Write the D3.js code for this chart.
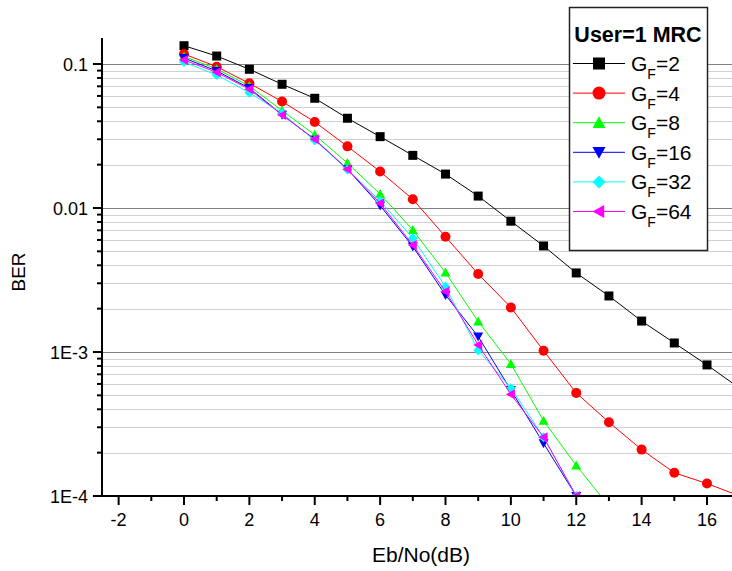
<!DOCTYPE html>
<html>
<head>
<meta charset="utf-8">
<script src="https://cdn.jsdelivr.net/npm/d3@7"></script>
<style>
    body { margin: 0; background: #fff; }
    text { font-family: "Liberation Sans", Arial, sans-serif; }
</style>
</head>
<body>
<div id="chart-view"></div>
<script>
// Eb/No values (dB)
var ebno = [0, 1, 2, 3, 4, 5, 6, 7, 8, 9, 10, 11, 12, 13, 14, 15, 16, 17];

// BER for each spreading factor G_F
var berGF2 = [0.134, 0.1136, 0.0919, 0.0723, 0.0578, 0.042, 0.0313, 0.0232, 0.0172, 0.0121,
    0.0081, 0.00545, 0.00354, 0.00245, 0.00164, 0.001155, 0.000813, 0.00056];
var berGF4 = [0.1173, 0.0958, 0.0734, 0.0549, 0.0396, 0.0268, 0.0179, 0.0115, 0.00632, 0.00348,
    0.00204, 0.00102, 0.00052, 0.000325, 0.00021, 0.000145, 0.000122, 0.0001];
var berGF8 = [0.1127, 0.0925, 0.0703, 0.0475, 0.0322, 0.0205, 0.0125, 0.00703, 0.00356, 0.00163,
    0.000826, 0.000333, 0.000163, 0.000085];
var berGF16 = [0.110, 0.0895, 0.068, 0.0445, 0.0298, 0.0186, 0.0104, 0.0054, 0.00249, 0.00128,
    0.000544, 0.000232, 0.0001];
var berGF32 = [0.1032, 0.0839, 0.0632, 0.0455, 0.0295, 0.0185, 0.0112, 0.00616, 0.00284, 0.00103,
    0.00056, 0.000256, 0.0001];
var berGF64 = [0.1066, 0.0875, 0.0667, 0.0443, 0.030, 0.0186, 0.0108, 0.00553, 0.00263, 0.00112,
    0.000508, 0.000256, 0.0001];

var seriesNames = ["2", "4", "8", "16", "32", "64"];
var legendTitle = "User=1 MRC";
var xTickValues = [-2, 0, 2, 4, 6, 8, 10, 12, 14, 16];
var yTickValues = [1e-4, 1e-3, 1e-2, 1e-1];
var yTickLabels = ["1E-4", "1E-3", "0.01", "0.1"];

/** Class implementing the BER chart. */
class BerChart {
    constructor() {
        this.width = 732;
        this.height = 571;

        // plot area edges
        this.left = 102;
        this.right = 732;
        this.top = 38;
        this.bottom = 496;

        this.svg = d3.select("#chart-view")
            .append("svg")
            .attr("width", this.width)
            .attr("height", this.height);

        this.x = d3.scaleLinear().domain([0, 16]).range([184, 707]);
        this.y = d3.scaleLog().domain([1e-4, 1e-1]).range([this.bottom, 64]);

        this.series = [
            {name: seriesNames[0], values: berGF2, color: "#000000", shape: "square"},
            {name: seriesNames[1], values: berGF4, color: "#ff0000", shape: "circle"},
            {name: seriesNames[2], values: berGF8, color: "#00ff00", shape: "up"},
            {name: seriesNames[3], values: berGF16, color: "#0000ff", shape: "down"},
            {name: seriesNames[4], values: berGF32, color: "#00ffff", shape: "diamond"},
            {name: seriesNames[5], values: berGF64, color: "#ff00ff", shape: "left"}
        ];
    }

    // path for a marker centred on 0,0 with half size s
    markerPath(shape, s) {
        if (shape == "square") {
            return "M" + (-s) + "," + (-s) + "h" + (2 * s) + "v" + (2 * s) + "h" + (-2 * s) + "Z";
        }
        if (shape == "circle") {
            return "M" + (-s) + ",0a" + s + "," + s + " 0 1,0 " + (2 * s) + ",0a" + s + "," + s + " 0 1,0 " + (-2 * s) + ",0Z";
        }
        if (shape == "up") {
            return "M0," + (-s) + "L" + s + "," + (s * 0.8) + "L" + (-s) + "," + (s * 0.8) + "Z";
        }
        if (shape == "down") {
            return "M0," + s + "L" + s + "," + (-s * 0.8) + "L" + (-s) + "," + (-s * 0.8) + "Z";
        }
        if (shape == "diamond") {
            return "M0," + (-s) + "L" + s + ",0L0," + s + "L" + (-s) + ",0Z";
        }
        if (shape == "left") {
            return "M" + (-s) + ",0L" + (s * 0.8) + "," + (-s) + "L" + (s * 0.8) + "," + s + "Z";
        }
    }

    drawGrid() {
        var self = this;
        var minor = [];
        var major = [];
        for (var e = -4; e <= -1; e++) {
            for (var m = 1; m <= 9; m++) {
                var v = m * Math.pow(10, e);
                if (v > 0.15) continue;
                if (m == 1) major.push(v); else minor.push(v);
            }
        }
        this.minorY = minor;

        this.svg.append("g")
            .selectAll("line")
            .data(minor)
            .enter()
            .append("line")
            .attr("x1", this.left).attr("x2", this.right)
            .attr("y1", d => Math.round(self.y(d)) + 0.5)
            .attr("y2", d => Math.round(self.y(d)) + 0.5)
            .style("stroke", "#d0d0d0")
            .style("stroke-width", 1);

        this.svg.append("g")
            .selectAll("line")
            .data(major.filter(d => d > 1e-4))
            .enter()
            .append("line")
            .attr("x1", this.left).attr("x2", this.right)
            .attr("y1", d => Math.round(self.y(d)) + 0.5)
            .attr("y2", d => Math.round(self.y(d)) + 0.5)
            .style("stroke", "#808080")
            .style("stroke-width", 1);
    }

    drawAxes() {
        var self = this;

        // y axis
        var yAxis = this.svg.append("g");
        yAxis.append("line")
            .attr("x1", this.left).attr("x2", this.left)
            .attr("y1", this.top).attr("y2", this.bottom + 1)
            .style("stroke", "#000").style("stroke-width", 2);
        yAxis.selectAll(".major")
            .data(yTickValues)
            .enter()
            .append("line")
            .attr("x1", this.left - 9).attr("x2", this.left)
            .attr("y1", d => self.y(d)).attr("y2", d => self.y(d))
            .style("stroke", "#000").style("stroke-width", 2);
        yAxis.selectAll(".minor")
            .data(this.minorY)
            .enter()
            .append("line")
            .attr("x1", this.left - 5).attr("x2", this.left)
            .attr("y1", d => self.y(d)).attr("y2", d => self.y(d))
            .style("stroke", "#000").style("stroke-width", 2);
        yAxis.selectAll("text")
            .data(yTickValues)
            .enter()
            .append("text")
            .attr("x", this.left - 14)
            .attr("y", d => self.y(d) + 6.5)
            .attr("text-anchor", "end")
            .style("font-size", "18px")
            .text((d, i) => yTickLabels[i]);

        // x axis
        var minorX = [];
        for (var v = -1; v <= 17; v += 2) minorX.push(v);
        var xAxis = this.svg.append("g");
        xAxis.append("line")
            .attr("x1", this.left - 1).attr("x2", this.right)
            .attr("y1", this.bottom).attr("y2", this.bottom)
            .style("stroke", "#000").style("stroke-width", 2);
        xAxis.selectAll(".major")
            .data(xTickValues)
            .enter()
            .append("line")
            .attr("x1", d => self.x(d)).attr("x2", d => self.x(d))
            .attr("y1", this.bottom).attr("y2", this.bottom + 9)
            .style("stroke", "#000").style("stroke-width", 2);
        xAxis.selectAll(".minor")
            .data(minorX.filter(d => self.x(d) < self.right))
            .enter()
            .append("line")
            .attr("x1", d => self.x(d)).attr("x2", d => self.x(d))
            .attr("y1", this.bottom).attr("y2", this.bottom + 5)
            .style("stroke", "#000").style("stroke-width", 2);
        xAxis.selectAll("text")
            .data(xTickValues)
            .enter()
            .append("text")
            .attr("x", d => self.x(d))
            .attr("y", this.bottom + 30)
            .attr("text-anchor", "middle")
            .style("font-size", "18px")
            .text(d => d);

        // axis titles
        this.svg.append("text")
            .attr("x", 421)
            .attr("y", 562)
            .attr("text-anchor", "middle")
            .style("font-size", "21px")
            .text("Eb/No(dB)");
        this.svg.append("text")
            .attr("transform", "translate(25,272) rotate(-90)")
            .attr("text-anchor", "middle")
            .style("font-size", "19px")
            .text("BER");
    }

    drawSeries() {
        var self = this;

        this.svg.append("clipPath")
            .attr("id", "plot-clip")
            .append("rect")
            .attr("x", this.left).attr("y", this.top)
            .attr("width", this.right - this.left)
            .attr("height", this.bottom - this.top);

        var plot = this.svg.append("g").attr("clip-path", "url(#plot-clip)");
        var line = d3.line()
            .x((d, i) => self.x(ebno[i]))
            .y(d => self.y(d));

        this.series.forEach(function(s) {
            var g = plot.append("g");
            g.append("path")
                .attr("d", line(s.values))
                .style("fill", "none")
                .style("stroke", s.color)
                .style("stroke-width", 1);
            g.selectAll("path.mark")
                .data(s.values)
                .enter()
                .append("path")
                .attr("class", "mark")
                .attr("transform", (d, i) => "translate(" + self.x(ebno[i]) + "," + self.y(d) + ")")
                .attr("d", self.markerPath(s.shape, s.shape == "square" ? 4.5 : 5))
                .style("fill", s.color);
        });
    }

    drawLegend() {
        var self = this;
        var lg = this.svg.append("g");
        lg.append("rect")
            .attr("x", 569.5).attr("y", 7.5)
            .attr("width", 138).attr("height", 243)
            .style("fill", "#fff")
            .style("stroke", "#222")
            .style("stroke-width", 1.5);
        lg.append("text")
            .attr("x", 638)
            .attr("y", 42)
            .attr("text-anchor", "middle")
            .style("font-size", "21.5px")
            .style("font-weight", "bold")
            .text(legendTitle);

        this.series.forEach(function(s, i) {
            var yy = 63.5 + i * 29.6;
            lg.append("line")
                .attr("x1", 573).attr("x2", 625)
                .attr("y1", yy).attr("y2", yy)
                .style("stroke", s.color).style("stroke-width", 1);
            lg.append("path")
                .attr("transform", "translate(599," + yy + ")")
                .attr("d", self.markerPath(s.shape, s.shape == "square" ? 6 : 6.5))
                .style("fill", s.color);
            var t = lg.append("text")
                .attr("x", 631)
                .attr("y", yy + 7.5)
                .style("font-size", "21px");
            t.append("tspan").text("G");
            t.append("tspan").attr("dy", 8).style("font-size", "14px").text("F");
            t.append("tspan").attr("dy", -8).text("=" + s.name);
        });
    }
}

var chart = new BerChart();
chart.drawGrid();
chart.drawSeries();
chart.drawAxes();
chart.drawLegend();
</script>
</body>
</html>
